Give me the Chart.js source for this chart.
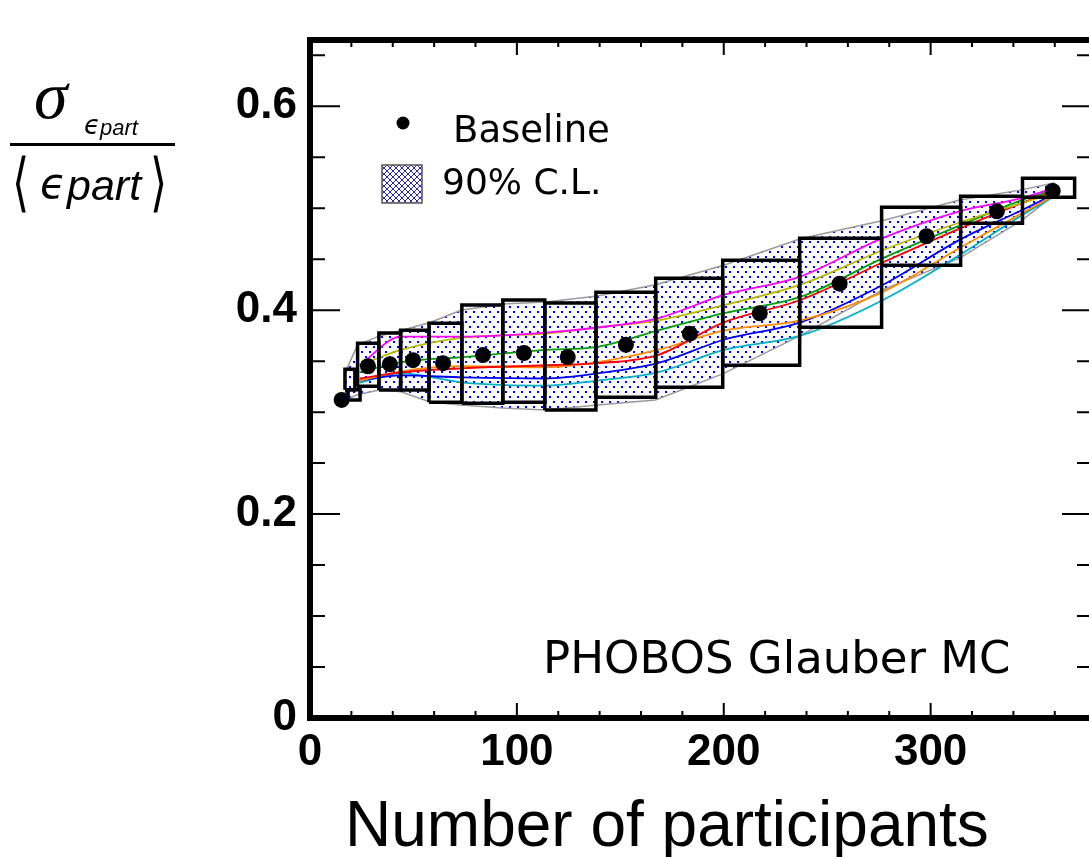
<!DOCTYPE html>
<html>
<head>
<meta charset="utf-8">
<script src="https://cdn.jsdelivr.net/npm/chart.js@4.4.1/dist/chart.umd.min.js"></script>
<style>
html, body { margin: 0; padding: 0; background: #fff; overflow: hidden; width: 1089px; height: 857px; }
#wrap { position: relative; width: 1100px; height: 857px; }
</style>
</head>
<body>
<div id="wrap"><canvas id="c" width="1100" height="857"></canvas></div>
<script>
// baseline points (Npart, sigma/<eps>)
var baseX = [15.3, 28, 38.6, 49.8, 64.3, 83.6, 103.4, 124.6, 152.7, 183.6, 217.4, 256, 298, 332, 359];
var baseY = [0.312, 0.345, 0.347, 0.351, 0.348, 0.356, 0.358, 0.354, 0.366, 0.377, 0.397, 0.426, 0.4725, 0.497, 0.517];

// 90% C.L. boxes: x range and y range
var boxX1 = [18.4, 16.9, 23, 33.3, 43.8, 57.5, 73.4, 93.2, 113.5, 138.2, 167.1, 199.5, 236.7, 276.3, 314.5, 344.4];
var boxX2 = [24.2, 21.7, 33.3, 43.8, 57.5, 73.4, 93.2, 113.5, 138.2, 167.1, 199.5, 236.7, 276.3, 314.5, 344.4, 369.6];
var boxLo = [0.312, 0.322, 0.3255, 0.3216, 0.3216, 0.3098, 0.3088, 0.3098, 0.302, 0.3147, 0.3245, 0.346, 0.3833, 0.4441, 0.4853, 0.5108];
var boxHi = [0.322, 0.342, 0.3676, 0.3775, 0.3804, 0.3873, 0.405, 0.41, 0.407, 0.4176, 0.4314, 0.449, 0.4706, 0.501, 0.5118, 0.5294];

// shaded band
var bandX  = [17, 23, 34, 44, 58, 73, 93, 114, 139, 167, 200, 237, 277, 314, 344, 360];
var bandHi = [0.339, 0.366, 0.375, 0.380, 0.388, 0.400, 0.406, 0.408, 0.414, 0.425, 0.444, 0.470, 0.488, 0.508, 0.518, 0.525];
var bandLo = [0.312, 0.317, 0.322, 0.320, 0.310, 0.307, 0.304, 0.302, 0.307, 0.312, 0.338, 0.375, 0.420, 0.451, 0.488, 0.513];

// variation curves
var lineX   = [24, 44, 74, 114, 139, 168, 200, 237, 277, 314, 344, 360];
var magenta = [0.346, 0.374, 0.374, 0.378, 0.383, 0.392, 0.415, 0.433, 0.471, 0.497, 0.510, 0.520];
var olive   = [0.346, 0.361, 0.373, 0.377, 0.383, 0.390, 0.405, 0.425, 0.459, 0.486, 0.505, 0.515];
var green   = [0.339, 0.349, 0.354, 0.361, 0.364, 0.380, 0.397, 0.413, 0.451, 0.483, 0.508, 0.518];
var red     = [0.333, 0.339, 0.343, 0.346, 0.348, 0.356, 0.388, 0.410, 0.447, 0.480, 0.505, 0.517];
var orange  = [0.331, 0.340, 0.345, 0.344, 0.349, 0.361, 0.380, 0.390, 0.418, 0.461, 0.495, 0.513];
var blue    = [0.331, 0.336, 0.334, 0.333, 0.338, 0.348, 0.371, 0.388, 0.425, 0.469, 0.498, 0.514];
var cyan    = [0.329, 0.338, 0.329, 0.326, 0.331, 0.339, 0.361, 0.375, 0.410, 0.454, 0.493, 0.512];

var xTicks = [0, 100, 200, 300];
var yTicks = [0, 0.2, 0.4, 0.6];

function pts(xs, ys) {
    return xs.map(function (x, i) { return { x: x, y: ys[i] }; });
}

// blue dot fill
var tile = document.createElement('canvas');
tile.width = 8; tile.height = 10;
var tc = tile.getContext('2d');
tc.fillStyle = '#fff';
tc.fillRect(0, 0, 8, 10);
tc.fillStyle = '#0000ff';
tc.fillRect(1, 1, 2, 2);
tc.fillRect(5, 6, 2, 2);
var dots = tc.createPattern(tile, 'repeat');

// crosshatch for the legend box
var htile = document.createElement('canvas');
htile.width = 6; htile.height = 6;
var hc = htile.getContext('2d');
hc.fillStyle = '#fff';
hc.fillRect(0, 0, 6, 6);
hc.strokeStyle = '#2a2aa0';
hc.lineWidth = 1;
hc.beginPath();
hc.moveTo(0, 0); hc.lineTo(6, 6);
hc.moveTo(6, 0); hc.lineTo(0, 6);
hc.stroke();
var hatch = hc.createPattern(htile, 'repeat');

var datasets = [];
datasets.push({ data: pts(baseX, baseY), showLine: false, pointRadius: 8, pointBackgroundColor: '#000', pointBorderWidth: 0, order: 0 });
datasets.push({ data: pts(bandX, bandHi), borderColor: '#9a9a9a', borderWidth: 1.5, pointRadius: 0, fill: false, order: 3 });
datasets.push({ data: pts(bandX, bandLo), borderColor: '#9a9a9a', borderWidth: 1.5, pointRadius: 0, fill: '-1', backgroundColor: dots, order: 3 });

var curves = [[magenta, '#ff00ff'], [olive, '#b8b800'], [green, '#00a000'], [red, '#ff0000'], [orange, '#ff8c00'], [blue, '#0000ff'], [cyan, '#00b0c8']];
curves.forEach(function (c) {
    datasets.push({ data: pts(lineX, c[0]), borderColor: c[1], borderWidth: 1.8, pointRadius: 0, cubicInterpolationMode: 'monotone', fill: false, order: 2 });
});

for (var i = 0; i < boxX1.length; i++) {
    datasets.push({
        data: [{ x: boxX1[i], y: boxLo[i] }, { x: boxX1[i], y: boxHi[i] }, { x: boxX2[i], y: boxHi[i] }, { x: boxX2[i], y: boxLo[i] }, { x: boxX1[i], y: boxLo[i] }],
        borderColor: '#000', borderWidth: 3.5, pointRadius: 0, tension: 0, fill: false, order: 1, borderJoinStyle: 'miter'
    });
}

var decor = {
    id: 'decor',
    beforeDraw: function (chart) {
        var ctx = chart.ctx;
        ctx.save();
        ctx.fillStyle = '#fff';
        ctx.fillRect(0, 0, chart.width, chart.height);
        ctx.restore();
    },
    afterDraw: function (chart) {
        var ctx = chart.ctx, a = chart.chartArea, xs = chart.scales.x, ys = chart.scales.y;
        ctx.save();
        ctx.strokeStyle = '#000';
        ctx.lineWidth = 2;
        ctx.beginPath();
        // y ticks, both sides
        for (var v = 0.05; v < ys.max; v += 0.05) {
            var yy = ys.getPixelForValue(v);
            var major = Math.abs(v / 0.2 - Math.round(v / 0.2)) < 1e-6;
            var len = major ? 30 : 15;
            ctx.moveTo(a.left, yy); ctx.lineTo(a.left + len, yy);
            ctx.moveTo(a.right, yy); ctx.lineTo(a.right - len, yy);
        }
        // x ticks, bottom and top
        for (var u = 20; u < xs.max; u += 20) {
            var xx = xs.getPixelForValue(u);
            var len2 = (u % 100 === 0) ? 15 : 7;
            ctx.moveTo(xx, a.bottom); ctx.lineTo(xx, a.bottom - len2);
            ctx.moveTo(xx, a.top); ctx.lineTo(xx, a.top + len2);
        }
        ctx.stroke();
        ctx.lineWidth = 6;
        ctx.strokeRect(a.left, a.top, a.right - a.left, a.bottom - a.top);

        ctx.fillStyle = '#000';
        // legend
        ctx.beginPath();
        ctx.arc(403, 123, 6.5, 0, Math.PI * 2);
        ctx.fill();
        ctx.textAlign = 'left';
        ctx.textBaseline = 'alphabetic';
        ctx.font = '37px "DejaVu Sans"';
        ctx.fillText('Baseline', 453, 142);
        ctx.fillStyle = hatch;
        ctx.fillRect(382, 165, 40, 38);
        ctx.strokeStyle = '#555';
        ctx.lineWidth = 1.5;
        ctx.strokeRect(382, 165, 40, 38);
        ctx.fillStyle = '#000';
        ctx.font = '36px "DejaVu Sans"';
        ctx.fillText('90% C.L.', 442, 194);

        ctx.font = '45px "DejaVu Sans"';
        ctx.fillText('PHOBOS Glauber MC', 543, 673);

        ctx.font = '64px "Liberation Sans"';
        ctx.fillText('Number of participants', 345, 846);

        // y title: sigma over mean eccentricity
        ctx.font = 'italic 68px "Liberation Serif"';
        ctx.fillText('σ', 34, 118);
        ctx.font = 'italic 26px "DejaVu Sans"';
        ctx.fillText('ϵ', 84, 134);
        ctx.font = 'italic 22px "Liberation Sans"';
        ctx.fillText('part', 100, 135);
        ctx.fillRect(10, 143, 165, 3);
        ctx.font = '200 44px "DejaVu Sans"';
        ctx.save();
        ctx.translate(0, 204);
        ctx.scale(1, 1.45);
        ctx.fillText('⟨', 12, 0);
        ctx.fillText('⟩', 150, 0);
        ctx.restore();
        ctx.font = 'italic 42px "DejaVu Sans"';
        ctx.fillText('ϵ', 40, 198);
        ctx.font = 'italic 43px "Liberation Sans"';
        ctx.fillText('part', 67, 200);
        ctx.restore();
    }
};

var tickFont = { family: 'Liberation Sans', weight: 'bold', size: 44 };

new Chart(document.getElementById('c'), {
    type: 'line',
    data: { datasets: datasets },
    options: {
        responsive: false,
        animation: false,
        events: [],
        layout: { padding: { left: 0, top: 40, right: 7, bottom: 0 } },
        plugins: { legend: { display: false }, tooltip: { enabled: false } },
        scales: {
            x: {
                type: 'linear', min: 0, max: 378,
                afterBuildTicks: function (s) { s.ticks = xTicks.map(function (v) { return { value: v }; }); },
                afterFit: function (s) { s.height = 139; },
                grid: { display: false, drawTicks: false },
                border: { display: false },
                ticks: { font: tickFont, color: '#000', padding: 8, maxRotation: 0, autoSkip: false }
            },
            y: {
                type: 'linear', min: 0, max: 0.665,
                afterBuildTicks: function (s) { s.ticks = yTicks.map(function (v) { return { value: v }; }); },
                afterFit: function (s) { s.width = 310; },
                grid: { display: false, drawTicks: false },
                border: { display: false },
                ticks: {
                    font: tickFont, color: '#000', padding: 13, autoSkip: false,
                    callback: function (v) { return v === 0 ? '0' : v.toFixed(1); }
                }
            }
        }
    },
    plugins: [decor]
});
</script>
</body>
</html>
